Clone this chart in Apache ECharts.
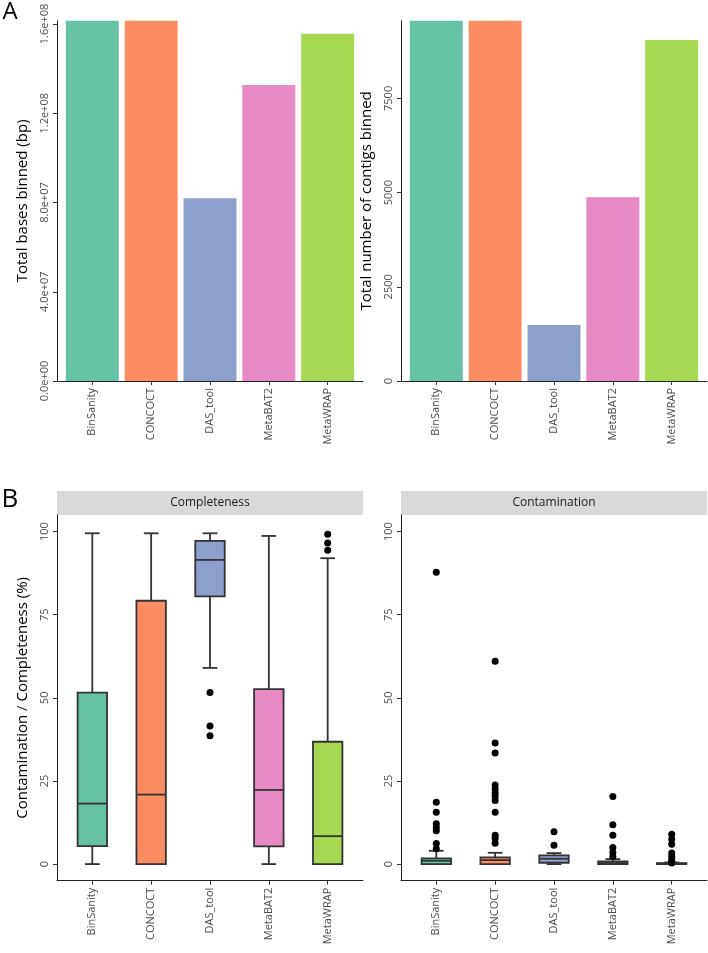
<!DOCTYPE html>
<html><head><meta charset="utf-8">
<script src="https://cdn.jsdelivr.net/npm/echarts@6/dist/echarts.min.js"></script>
<style>html,body{margin:0;padding:0;background:#fff}#c{width:708px;height:953px}</style>
</head><body><div id="c"></div>
<script>
// ---------- data ----------
const categories = ['BinSanity', 'CONCOCT', 'DAS_tool', 'MetaBAT2', 'MetaWRAP'];
const basesBinned = [1.615e8, 1.615e8, 8.19e7, 1.327e8, 1.557e8];
const contigsBinned = [9562, 9562, 1486, 4875, 9050];
const basesTicks = [0, 4e7, 8e7, 1.2e8, 1.6e8];
const contigsTicks = [0, 2500, 5000, 7500];
const pctTicks = [0, 25, 50, 75, 100];
// [lower whisker, Q1, median, Q3, upper whisker]
const completenessBox = [
  [0, 5.4, 18.2, 51.6, 99.5],
  [0, 0, 20.9, 79.2, 99.5],
  [59.0, 80.5, 91.5, 97.2, 99.5],
  [0, 5.3, 22.3, 52.6, 98.7],
  [0, 0, 8.4, 36.8, 92.0]
];
const completenessOutliers = [[], [], [51.6, 41.5, 38.6], [], [99.2, 96.6, 94.4]];
const contaminationBox = [
  [0, 0, 1.0, 1.7, 4.0],
  [0, 0, 1.2, 2.0, 3.4],
  [0, 0.4, 1.6, 2.6, 3.3],
  [0, 0, 0.3, 0.8, 1.5],
  [0, 0, 0, 0.3, 0.5]
];
const contaminationOutliers = [
  [87.8, 18.6, 15.6, 12.1, 11.0, 10.0, 6.2, 4.6],
  [61.0, 36.4, 33.4, 23.8, 22.6, 21.4, 20.3, 19.1, 15.6, 8.7, 7.8, 6.3],
  [9.7, 5.7],
  [20.3, 11.8, 8.7, 5.0, 3.5, 2.3],
  [9.0, 7.5, 6.0, 3.3, 2.3, 1.3, 0.8, 0.3]
];
const palette = ['#66C2A5', '#FC8D62', '#8DA0CB', '#E78AC3', '#A6D854'];

// ---------- helpers ----------
const FONT = 'Open Sans';
const positions = categories.map((c, i) => i + 1);
const sci = v => {
  const [m, e] = v.toExponential(1).split('e');
  const sign = e[0] === '-' ? '-' : '+';
  return m + 'e' + sign + e.replace(/^[+-]/, '').padStart(2, '0');
};

function xAxis(gridIndex) {
  return {
    type: 'value', gridIndex, min: 0.4, max: categories.length + 0.6,
    axisLine: { show: true, onZero: false, lineStyle: { color: '#222', width: 1 } },
    axisTick: { show: true, length: 4, customValues: positions, lineStyle: { color: '#333' } },
    axisLabel: {
      customValues: positions, rotate: 90, margin: 7, color: '#4d4d4d',
      fontSize: 11, fontFamily: FONT, formatter: v => categories[Math.round(v) - 1]
    },
    splitLine: { show: false }
  };
}
function yAxis(gridIndex, o) {
  return Object.assign({
    type: 'value', gridIndex,
    axisLine: { show: true, onZero: false, lineStyle: { color: '#222', width: 1 } },
    axisTick: { show: true, length: 4, customValues: o.ticks, lineStyle: { color: '#333' } },
    axisLabel: {
      customValues: o.ticks, rotate: 90, margin: 7, color: '#4d4d4d',
      fontSize: 11, fontFamily: FONT, formatter: o.fmt || (v => String(v))
    },
    splitLine: { show: false },
    nameLocation: 'middle', nameGap: 27,
    nameTextStyle: { fontSize: 15, fontFamily: FONT, color: '#000' }
  }, o.extra);
}

function boxRender(params, api) {
  const x = api.value(0);
  const lo = api.value(1), q1 = api.value(2), med = api.value(3), q3 = api.value(4), hi = api.value(5);
  const unit = api.size([1, 0])[0];
  const cx = api.coord([x, lo])[0];
  const yLo = api.coord([x, lo])[1], yQ1 = api.coord([x, q1])[1], yMed = api.coord([x, med])[1];
  const yQ3 = api.coord([x, q3])[1], yHi = api.coord([x, hi])[1];
  const bw = unit * 0.5, cw = unit * 0.25;
  const ls = { stroke: '#333', lineWidth: 1.8 };
  return {
    type: 'group', children: [
      { type: 'line', shape: { x1: cx, y1: yHi, x2: cx, y2: yQ3 }, style: ls },
      { type: 'line', shape: { x1: cx, y1: yQ1, x2: cx, y2: yLo }, style: ls },
      { type: 'line', shape: { x1: cx - cw / 2, y1: yHi, x2: cx + cw / 2, y2: yHi }, style: ls },
      { type: 'line', shape: { x1: cx - cw / 2, y1: yLo, x2: cx + cw / 2, y2: yLo }, style: ls },
      { type: 'rect', shape: { x: cx - bw / 2, y: yQ3, width: bw, height: yQ1 - yQ3 },
        style: { fill: palette[params.dataIndex], stroke: '#333', lineWidth: 1.8 } },
      { type: 'line', shape: { x1: cx - bw / 2, y1: yMed, x2: cx + bw / 2, y2: yMed }, style: ls }
    ]
  };
}
const boxData = stats => stats.map((s, i) => [i + 1].concat(s));
const outlierData = outs => {
  const d = [];
  outs.forEach((arr, i) => arr.forEach(v => d.push([i + 1, v])));
  return d;
};
const barData = vals => vals.map((v, i) => ({ value: [i + 1, v], itemStyle: { color: palette[i] } }));

const chart = echarts.init(document.getElementById('c'), null, { renderer: 'canvas' });
chart.setOption({
  animation: false,
  backgroundColor: '#fff',
  textStyle: { fontFamily: FONT },
  grid: [
    { left: 57, top: 20.7, width: 306, height: 360.3 },
    { left: 401, top: 20.7, width: 306, height: 360.3 },
    { left: 57, top: 515, width: 306, height: 365.7 },
    { left: 401, top: 515, width: 306, height: 365.7 }
  ],
  xAxis: [xAxis(0), xAxis(1), xAxis(2), xAxis(3)],
  yAxis: [
    yAxis(0, { ticks: basesTicks, fmt: sci, extra: { min: 0, max: v => v.max, name: 'Total bases binned (bp)' } }),
    yAxis(1, { ticks: contigsTicks, extra: { min: 0, max: v => v.max, name: 'Total number of contigs binned' } }),
    yAxis(2, { ticks: pctTicks, extra: { min: -5, max: 105, name: 'Contamination / Completeness (%)' } }),
    yAxis(3, { ticks: pctTicks, extra: { min: -5, max: 105 } })
  ],
  graphic: [
    { type: 'text', x: 10, y: 12, style: { text: 'A', fontSize: 24, fontFamily: FONT, fill: '#000', textAlign: 'center', textVerticalAlign: 'middle' } },
    { type: 'text', x: 10, y: 500, style: { text: 'B', fontSize: 26, fontFamily: FONT, fill: '#000', textAlign: 'center', textVerticalAlign: 'middle' } },
    { type: 'rect', x: 57, y: 491, shape: { width: 306, height: 24 }, style: { fill: '#d9d9d9' } },
    { type: 'rect', x: 401, y: 491, shape: { width: 306, height: 24 }, style: { fill: '#d9d9d9' } },
    { type: 'text', x: 210, y: 503, style: { text: 'Completeness', fontSize: 12, fontFamily: FONT, fill: '#1a1a1a', textAlign: 'center', textVerticalAlign: 'middle' } },
    { type: 'text', x: 554, y: 503, style: { text: 'Contamination', fontSize: 12, fontFamily: FONT, fill: '#1a1a1a', textAlign: 'center', textVerticalAlign: 'middle' } }
  ],
  series: [
    { type: 'bar', xAxisIndex: 0, yAxisIndex: 0, barWidth: '90%', data: barData(basesBinned) },
    { type: 'bar', xAxisIndex: 1, yAxisIndex: 1, barWidth: '90%', data: barData(contigsBinned) },
    { type: 'custom', xAxisIndex: 2, yAxisIndex: 2, renderItem: boxRender, encode: { x: 0, y: [1, 2, 3, 4, 5] }, data: boxData(completenessBox) },
    { type: 'custom', xAxisIndex: 3, yAxisIndex: 3, renderItem: boxRender, encode: { x: 0, y: [1, 2, 3, 4, 5] }, data: boxData(contaminationBox) },
    { type: 'scatter', xAxisIndex: 2, yAxisIndex: 2, symbolSize: 7, itemStyle: { color: '#000', opacity: 1 }, data: outlierData(completenessOutliers), z: 5 },
    { type: 'scatter', xAxisIndex: 3, yAxisIndex: 3, symbolSize: 7, itemStyle: { color: '#000', opacity: 1 }, data: outlierData(contaminationOutliers), z: 5 }
  ]
});
</script></body></html>
